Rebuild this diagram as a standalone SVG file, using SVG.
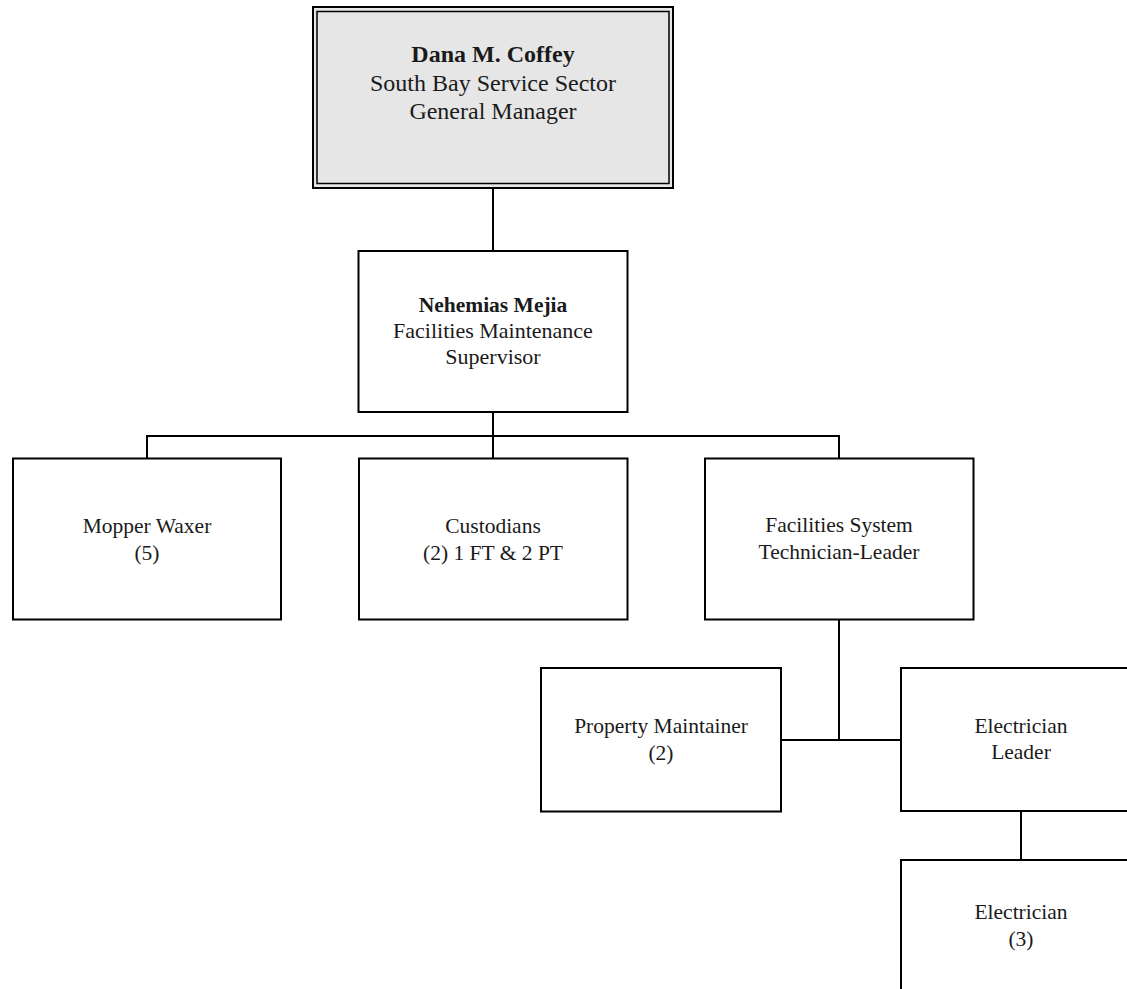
<svg xmlns="http://www.w3.org/2000/svg" width="1127" height="989" viewBox="0 0 1127 989">
<style>
.box{fill:#fff;stroke:#000;stroke-width:2}
.conn line{stroke:#000;stroke-width:2}
text{font-family:"Liberation Serif","Times New Roman",serif;fill:#1a1a1a;text-anchor:middle}
.t{font-size:21.5px}
.m{font-size:22px}
.n{font-size:21.5px;font-weight:bold}
.big{font-size:24px}
</style>
<rect width="1127" height="989" fill="#fff"/>
<g id="connectors" class="conn">
<line x1="493" y1="188" x2="493" y2="251"/>
<line x1="493" y1="412" x2="493" y2="436"/>
<line x1="146" y1="436" x2="840" y2="436"/>
<line x1="147" y1="436" x2="147" y2="458"/>
<line x1="493" y1="436" x2="493" y2="458"/>
<line x1="839" y1="436" x2="839" y2="458"/>
<line x1="839" y1="619" x2="839" y2="740"/>
<line x1="781" y1="740" x2="901" y2="740"/>
<line x1="1021" y1="811" x2="1021" y2="860"/>
</g>
<g id="gm">
<rect x="313" y="7" width="360" height="181" fill="#e6e6e6" stroke="#000" stroke-width="2"/>
<rect x="317" y="11.5" width="352" height="172" fill="none" stroke="#000" stroke-width="1.5"/>
<text x="493" y="62" class="big" font-size="23.5px" font-weight="bold">Dana M. Coffey</text>
<text x="493" y="91" class="big">South Bay Service Sector</text>
<text x="493" y="119" class="big">General Manager</text>
</g>
<g id="supervisor">
<rect class="box" x="358.5" y="251" width="269" height="161"/>
<text x="493" y="312" class="n">Nehemias Mejia</text>
<text x="493" y="338" class="m">Facilities Maintenance</text>
<text x="493" y="364" class="m">Supervisor</text>
</g>
<g id="mopper">
<rect class="box" x="13" y="458.5" width="268" height="161"/>
<text x="147" y="533" class="t">Mopper Waxer</text>
<text x="147" y="560" class="t">(5)</text>
</g>
<g id="custodians">
<rect class="box" x="359" y="458.5" width="268.5" height="161"/>
<text x="493" y="533" class="t">Custodians</text>
<text x="493" y="560" class="t">(2) 1 FT &amp; 2 PT</text>
</g>
<g id="fst">
<rect class="box" x="705" y="458.5" width="268.5" height="161"/>
<text x="839" y="532" class="t">Facilities System</text>
<text x="839" y="559" class="t">Technician-Leader</text>
</g>
<g id="property">
<rect class="box" x="541" y="668" width="240" height="143.5"/>
<text x="661" y="733" class="t">Property Maintainer</text>
<text x="661" y="760" class="t">(2)</text>
</g>
<g id="elead">
<rect class="box" x="901" y="668" width="240" height="143"/>
<text x="1021" y="733" class="t">Electrician</text>
<text x="1021" y="759" class="t">Leader</text>
</g>
<g id="electrician">
<rect class="box" x="901" y="860" width="240" height="144"/>
<text x="1021" y="919" class="t">Electrician</text>
<text x="1021" y="946" class="t">(3)</text>
</g>
</svg>
